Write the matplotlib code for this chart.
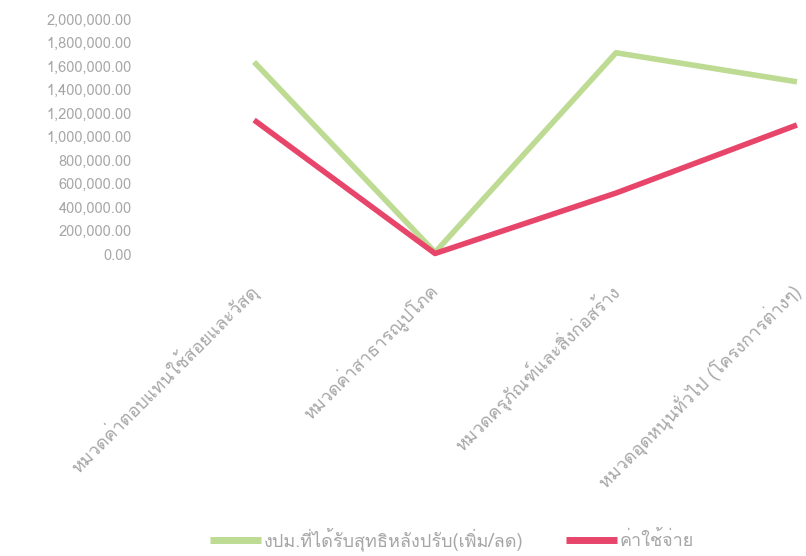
import matplotlib
matplotlib.use('Agg')
import matplotlib.pyplot as plt
from matplotlib import font_manager
from matplotlib.ft2font import FT2Font
from matplotlib.ticker import FuncFormatter

# data
categories = ['หมวดค่าตอบแทนใช้สอยและวัสดุ',
              'หมวดค่าสาธารณูปโภค',
              'หมวดครุภัณฑ์และสิ่งก่อสร้าง',
              'หมวดอุดหนุนทั่วไป (โครงการต่างๆ)']
budget_net = [1634000, 15000, 1712000, 1465000]
expenses = [1140000, 5000, 519000, 1098000]
series_names = ['งปม.ที่ได้รับสุทธิหลังปรับ(เพิ่ม/ลด)', 'ค่าใช้จ่าย']
y_ticks = [0, 200000, 400000, 600000, 800000, 1000000,
           1200000, 1400000, 1600000, 1800000, 2000000]

GREEN = '#bddb93'
RED = '#e8456b'
TEXT = '#a6a6a6'


def find_thai_font():
    """look for any installed font that has Thai glyphs"""
    for f in font_manager.fontManager.ttflist:
        try:
            if 0x0E01 in FT2Font(f.fname).get_charmap():
                return f.name
        except Exception:
            pass
    return None


thai = find_thai_font()
families = ([thai] if thai else []) + ['DejaVu Sans']
plt.rcParams['font.family'] = families

fig = plt.figure(figsize=(8.06, 5.56), dpi=100)
ax = fig.add_axes([0.203, 0.543, 0.898, 0.423])

x = list(range(len(categories)))
ax.plot(x, budget_net, color=GREEN, linewidth=4, solid_capstyle='butt',
        label=series_names[0], clip_on=False)
ax.plot(x, expenses, color=RED, linewidth=4, solid_capstyle='butt',
        label=series_names[1], clip_on=False)

ax.set_xlim(-0.5, len(categories) - 0.5)
ax.set_ylim(0, 2000000)
ax.set_yticks(y_ticks)
ax.yaxis.set_major_formatter(FuncFormatter(lambda v, p: f'{v:,.2f}'))
ax.tick_params(axis='y', length=0, pad=23, labelsize=10.5, labelcolor=TEXT)

ax.set_xticks(x)
ax.set_xticklabels(categories, rotation=45, ha='right', va='center',
                   rotation_mode='anchor')
ax.tick_params(axis='x', length=0, pad=24, labelsize=13, labelcolor=TEXT)

for s in ax.spines.values():
    s.set_visible(False)

leg = fig.legend(loc='center', bbox_to_anchor=(0.561, 0.03), ncol=2,
                 frameon=False, fontsize=13, handlelength=2.8,
                 handletextpad=0.15, columnspacing=2.4)
for line in leg.get_lines():
    line.set_linewidth(5)
for t in leg.get_texts():
    t.set_color(TEXT)

fig.savefig('out.png', dpi=100)
